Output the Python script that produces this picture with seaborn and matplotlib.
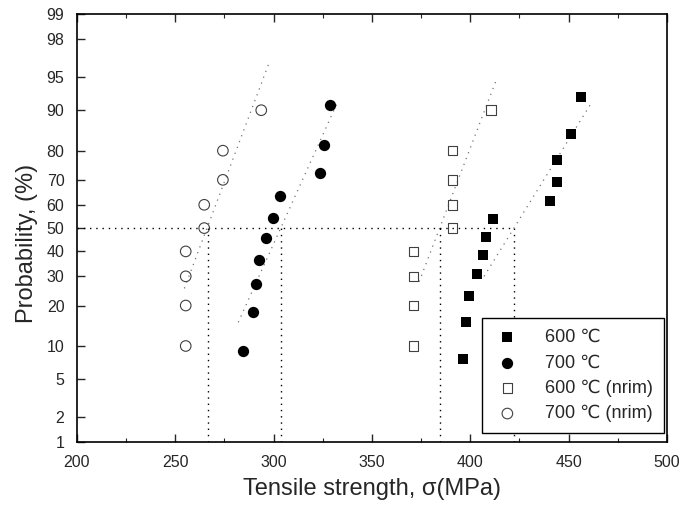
import numpy as np
import pandas as pd
import seaborn as sns
import matplotlib.pyplot as plt
from matplotlib.ticker import FixedLocator, MultipleLocator
from statistics import NormalDist

# cumulative probability (%) vs tensile strength (MPa)
p600 = [7.7, 15.4, 23.1, 30.8, 38.5, 46.2, 53.8, 61.5, 69.2, 76.9, 84.6, 92.3]
s600 = [396.2, 397.8, 399.4, 403.2, 406.3, 407.9, 411.6, 440.5, 444.2, 444.2, 451.1, 456.2]

p700 = [9.1, 18.2, 27.3, 36.4, 45.5, 54.5, 63.6, 72.7, 81.8, 90.9]
s700 = [284.2, 289.4, 291.0, 292.7, 296.3, 299.5, 303.2, 323.5, 325.6, 328.6]

p600_nrim = [10, 20, 30, 40, 50, 60, 70, 80, 90]
s600_nrim = [371, 371, 371, 371, 391, 391, 391, 391, 410.5]

p700_nrim = [10, 20, 30, 40, 50, 60, 70, 80, 90]
s700_nrim = [255.3, 255.3, 255.3, 255.3, 264.7, 264.7, 274.2, 274.2, 293.7]

# fitted lines (end points)
fit_s = {'600': [407, 461], '700': [282, 332.3],
         '600n': [374, 413], '700n': [254.6, 297.3]}
fit_p = {'600': [30, 91], '700': [15.3, 91.3],
         '600n': [28, 94.5], '700n': [25.6, 96.2]}

# median (50 %) strengths
s50 = [266.4, 304.0, 384.4, 422.3]

ytick_vals = [1, 2, 5, 10, 20, 30, 40, 50, 60, 70, 80, 90, 95, 98, 99]

sns.set_style('ticks')
plt.rcParams['font.family'] = ['Liberation Sans', 'DejaVu Sans']

nd = NormalDist()
_ppf = np.vectorize(nd.inv_cdf, otypes=[float])
_cdf = np.vectorize(nd.cdf, otypes=[float])


def fwd(p):
    p = np.clip(np.asarray(p, dtype=float), 1e-4, 100 - 1e-4)
    return _ppf(p / 100.0)


def inv(z):
    return _cdf(np.asarray(z, dtype=float)) * 100.0


fig = plt.figure(figsize=(6.83, 5.07), dpi=100)
ax = fig.add_axes([0.1127, 0.128, 0.8638, 0.8442])
ax.set_yscale('function', functions=(fwd, inv))

dot_black = (0, (1, 3.5))
dot_grey = (0, (1, 4))

# fitted lines
for key in ['600', '700', '600n', '700n']:
    d = pd.DataFrame({'s': fit_s[key], 'p': fit_p[key]})
    sns.lineplot(data=d, x='s', y='p', ax=ax, color='0.45', lw=0.9,
                 linestyle=dot_grey, sort=False, estimator=None)

# 50 % guide lines
ax.hlines(50, 200, max(s50), colors='black', lw=1.0, linestyles=dot_black)
ax.vlines(s50, 1, 50, colors='black', lw=1.0, linestyles=dot_black)

sns.scatterplot(x=s600, y=p600, marker='s', s=58, color='black',
                edgecolor='black', linewidth=0, ax=ax, label='600 \u2103', zorder=3)
sns.scatterplot(x=s700, y=p700, marker='o', s=66, color='black',
                edgecolor='black', linewidth=0, ax=ax, label='700 \u2103', zorder=3)
sns.scatterplot(x=s600_nrim, y=p600_nrim, marker='s', s=46, facecolor='none',
                edgecolor='0.25', linewidth=0.8, ax=ax, label='600 \u2103 (nrim)', zorder=3)
sns.scatterplot(x=s700_nrim, y=p700_nrim, marker='o', s=58, facecolor='none',
                edgecolor='0.25', linewidth=0.8, ax=ax, label='700 \u2103 (nrim)', zorder=3)

ax.set_xlim(200, 500)
ax.set_ylim(1, 99)
ax.xaxis.set_major_locator(MultipleLocator(50))
ax.xaxis.set_minor_locator(MultipleLocator(25))
ax.yaxis.set_major_locator(FixedLocator(ytick_vals))
ax.yaxis.set_minor_locator(FixedLocator([]))
ax.set_yticklabels([str(v) for v in ytick_vals])

ax.tick_params(axis='x', which='major', direction='in', length=6, width=1.0,
               top=True, labelsize=11.5, pad=9)
ax.tick_params(axis='x', which='minor', direction='in', length=3, width=0.8, top=True)
ax.tick_params(axis='y', which='major', direction='in', length=6, width=1.0,
               labelsize=11.5, pad=9)
for sp in ax.spines.values():
    sp.set_linewidth(1.2)
    sp.set_color('black')

ax.set_xlabel('Tensile strength, \u03c3(MPa)', fontsize=17, labelpad=6)
ax.set_ylabel('Probability, (%)', fontsize=17, labelpad=6, y=0.463)

leg = ax.legend(loc='lower right', bbox_to_anchor=(0.995, 0.021), borderaxespad=0,
                frameon=True, fancybox=False, edgecolor='black', framealpha=1,
                fontsize=13, handletextpad=1.3, labelspacing=0.45,
                borderpad=0.6, handlelength=1.6)
leg.get_frame().set_linewidth(1.0)

fig.savefig('out.png', dpi=100)
